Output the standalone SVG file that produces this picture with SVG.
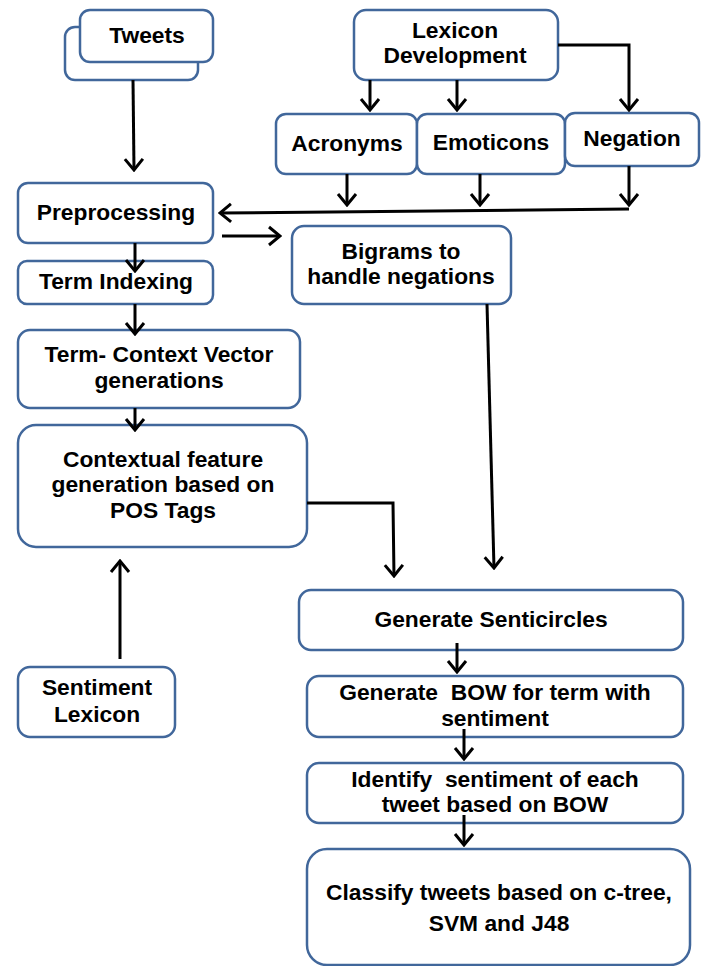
<svg xmlns="http://www.w3.org/2000/svg" width="704" height="966" viewBox="0 0 704 966">
<style>
.box{fill:#fff;stroke:#41679b;stroke-width:2.5}
.t{font-family:"Liberation Sans",Arial,sans-serif;font-weight:bold;font-size:22.8px;fill:#000;text-anchor:middle}
.c{fill:none;stroke:#000;stroke-width:3}
</style>
<defs>
<marker id="ah" markerUnits="userSpaceOnUse" viewBox="-14 -11 16 22" refX="0" refY="0" markerWidth="16" markerHeight="22" orient="auto">
<path d="M-11,-9 L0,0 L-11,9" fill="none" stroke="#000" stroke-width="3"/>
</marker>
</defs>
<rect width="704" height="966" fill="#fff"/>
<g id="tweets">
<rect class="box" x="65" y="27" width="133" height="53" rx="10"/>
<rect class="box" x="80" y="10" width="133" height="52" rx="10"/>
<text class="t" x="147" y="43">Tweets</text>
</g>
<g id="lexicon-development">
<rect class="box" x="354" y="10" width="204" height="70" rx="12"/>
<text class="t" x="455" y="38">Lexicon</text>
<text class="t" x="455" y="63">Development</text>
</g>
<g id="acronyms">
<rect class="box" x="276" y="114" width="141" height="60" rx="10"/>
<text class="t" x="347" y="151">Acronyms</text>
</g>
<g id="emoticons">
<rect class="box" x="417" y="114" width="148" height="60" rx="10"/>
<text class="t" x="491" y="150">Emoticons</text>
</g>
<g id="negation">
<rect class="box" x="565" y="113" width="134" height="53" rx="10"/>
<text class="t" x="632" y="146">Negation</text>
</g>
<g id="preprocessing">
<rect class="box" x="18" y="183" width="195" height="60" rx="10"/>
<text class="t" x="116" y="220">Preprocessing</text>
</g>
<g id="bigrams">
<rect class="box" x="292" y="226" width="219" height="78" rx="12"/>
<text class="t" x="401" y="259">Bigrams to</text>
<text class="t" x="401" y="284">handle negations</text>
</g>
<g id="term-indexing">
<rect class="box" x="18" y="261" width="195" height="43" rx="9"/>
<text class="t" x="116" y="289">Term Indexing</text>
</g>
<g id="term-context">
<rect class="box" x="18" y="330" width="282" height="78" rx="12"/>
<text class="t" x="159" y="362">Term- Context Vector</text>
<text class="t" x="159" y="388">generations</text>
</g>
<g id="contextual">
<rect class="box" x="18" y="425" width="289" height="122" rx="18"/>
<text class="t" x="163" y="467">Contextual feature</text>
<text class="t" x="163" y="492">generation based on</text>
<text class="t" x="163" y="518">POS Tags</text>
</g>
<g id="sentiment-lexicon">
<rect class="box" x="18" y="667" width="157" height="70" rx="12"/>
<text class="t" x="97" y="695">Sentiment</text>
<text class="t" x="97" y="722">Lexicon</text>
</g>
<g id="senticircles">
<rect class="box" x="299" y="590" width="384" height="60" rx="12"/>
<text class="t" x="491" y="627">Generate Senticircles</text>
</g>
<g id="generate-bow">
<rect class="box" x="307" y="676" width="376" height="61" rx="12"/>
<text class="t" x="495" y="700" xml:space="preserve">Generate  BOW for term with</text>
<text class="t" x="495" y="726">sentiment</text>
</g>
<g id="identify">
<rect class="box" x="307" y="763" width="376" height="60" rx="12"/>
<text class="t" x="495" y="787" xml:space="preserve">Identify  sentiment of each</text>
<text class="t" x="495" y="812">tweet based on BOW</text>
</g>
<g id="classify">
<rect class="box" x="307" y="849" width="383" height="116" rx="20"/>
<text class="t" x="499" y="900">Classify tweets based on c-tree,</text>
<text class="t" x="499" y="931">SVM and J48</text>
</g>
<g id="connectors">
<path class="c" d="M133,80 L134,170" marker-end="url(#ah)"/>
<path class="c" d="M370,80 L370,110" marker-end="url(#ah)"/>
<path class="c" d="M457,80 L457,110" marker-end="url(#ah)"/>
<path class="c" d="M558,45 L629,45 L629,110" marker-end="url(#ah)"/>
<path class="c" d="M347,174 L347,205" marker-end="url(#ah)"/>
<path class="c" d="M480,174 L480,205" marker-end="url(#ah)"/>
<path class="c" d="M629,166 L629,205" marker-end="url(#ah)"/>
<path class="c" d="M629,209 L220,213" marker-end="url(#ah)"/>
<path class="c" d="M222,236 L280,236" marker-end="url(#ah)"/>
<path class="c" d="M135,243 L135,271" marker-end="url(#ah)"/>
<path class="c" d="M135,304 L135,334" marker-end="url(#ah)"/>
<path class="c" d="M135,408 L135,430" marker-end="url(#ah)"/>
<path class="c" d="M307,503 L393,503 L394,576" marker-end="url(#ah)"/>
<path class="c" d="M487,304 L494,568" marker-end="url(#ah)"/>
<path class="c" d="M120,659 L120,561" marker-end="url(#ah)"/>
<path class="c" d="M457,643 L457,672" marker-end="url(#ah)"/>
<path class="c" d="M464,729 L464,759" marker-end="url(#ah)"/>
<path class="c" d="M464,815 L464,845" marker-end="url(#ah)"/>
</g>
</svg>
